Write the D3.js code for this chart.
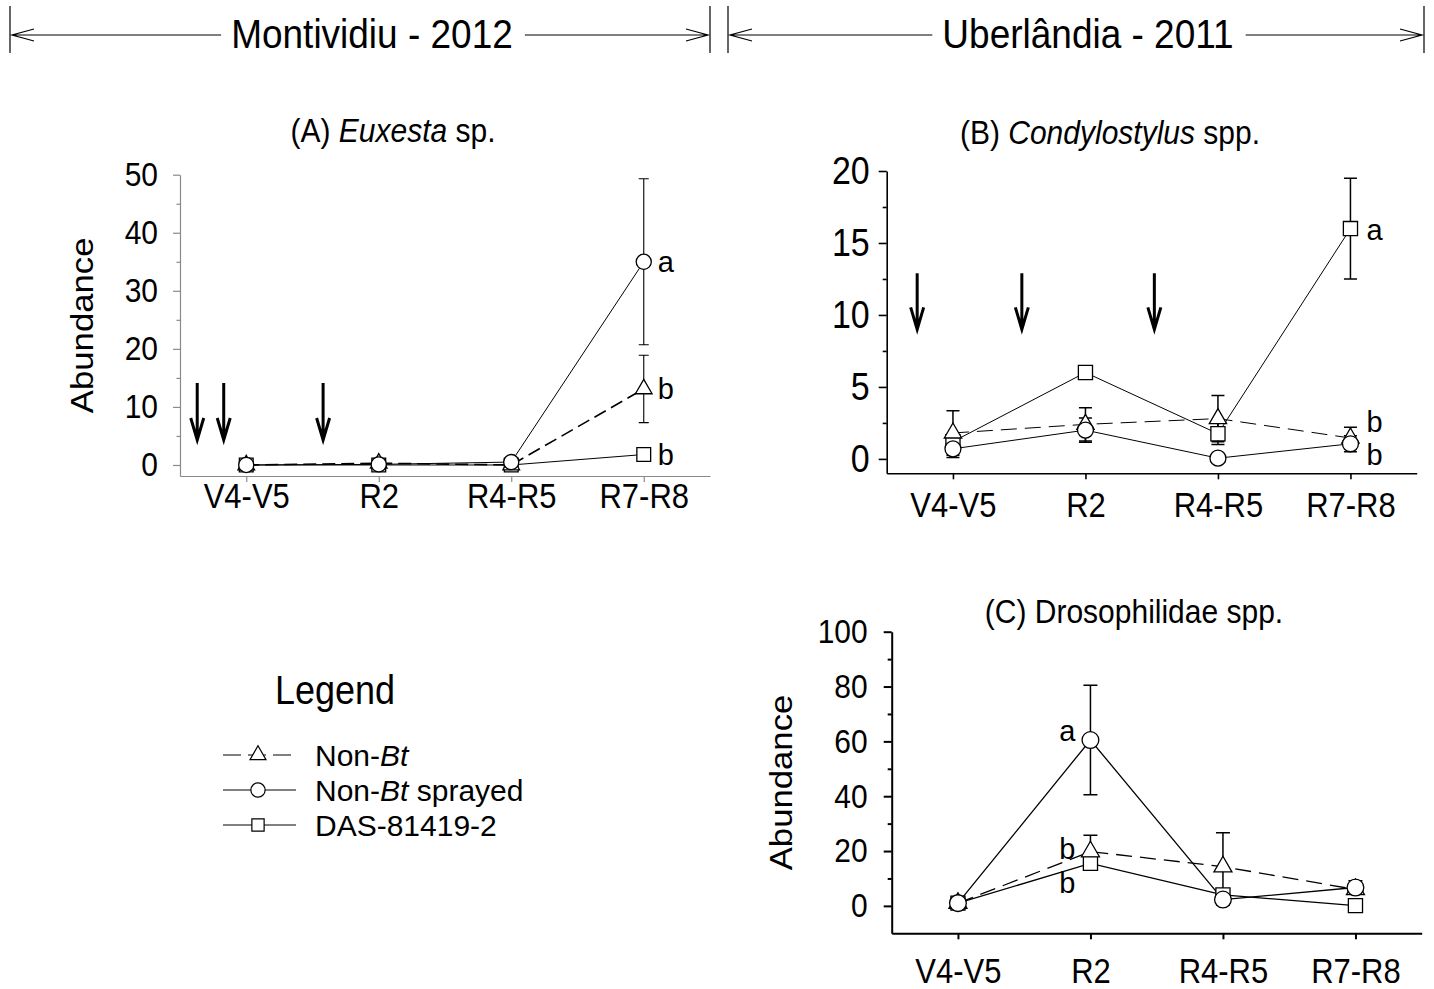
<!DOCTYPE html>
<html>
<head>
<meta charset="utf-8">
<script src="https://cdn.jsdelivr.net/npm/d3@7"></script>
<style>
  body { margin: 0; background: #fff; }
  text { font-family: "Liberation Sans", Arial, Helvetica, sans-serif; fill: #000; }
</style>
</head>
<body>
<svg id="fig" width="1434" height="989"></svg>
<script>
// growth stages on the x axis
const stages = ["V4-V5", "R2", "R4-R5", "R7-R8"]

// (A) Euxesta sp. - Montividiu 2012
const euxNonBt = [0, 0.3, 0, 13.1]
const euxNonBtErr = [0, 0, 0, 5.8]
const euxSprayed = [0, 0.1, 0.5, 35]
const euxSprayedErr = [0, 0, 0, 14.3]
const euxBt = [0, 0, 0, 1.8]
const euxBtErr = [0, 0, 0, 0]
const euxSprays = [-0.37, -0.17, 0.58]       // spray dates, in stage units
const euxLetters = ["b", "a", "b"]           // non-Bt, sprayed, Bt at R7-R8

// (B) Condylostylus spp. - Uberlandia 2011
const conNonBt = [1.8, 2.4, 2.8, 1.45]
const conNonBtErr = [1.55, 1.15, 1.6, 0.75]
const conSprayed = [0.7, 2.0, 0.05, 1.05]
const conSprayedErr = [0.6, 0.85, 0, 0.55]
const conBt = [1.2, 6.0, 1.75, 16.0]
const conBtErr = [0.3, 0.2, 0.75, 3.5]
const conSprays = [-0.27, 0.52, 1.52]
const conLetters = ["b", "b", "a"]           // at R7-R8

// (C) Drosophilidae spp. - Uberlandia 2011
const droNonBt = [1, 19.8, 14.3, 6]
const droNonBtErr = [1, 6, 12.4, 1.5]
const droSprayed = [1, 60.5, 2.3, 6.7]
const droSprayedErr = [1, 20, 2, 2.5]
const droBt = [1, 15.5, 4, 0.1]
const droBtErr = [0.8, 2.5, 2, 2]
const droLetters = ["b", "a", "b"]           // at R2

const treatments = ["Non-Bt", "Non-Bt sprayed", "DAS-81419-2"]
const shapes = [d3.symbolTriangle, d3.symbolCircle, d3.symbolSquare]

const svg = d3.select("#fig")

/** site header with double arrow */
function drawSite(x0, x1, label) {
    const g = svg.append("g")
    const cx = (x0 + x1) / 2 + 12
    const t = g.append("text")
        .attr("x", cx)
        .attr("y", 47)
        .attr("text-anchor", "middle")
        .style("font-size", "37px")
        .text(label)
    const w = t.node().getComputedTextLength()
    const yl = 35
    g.selectAll("line.bar").data([x0, x1]).enter().append("line")
        .attr("x1", d => d).attr("x2", d => d)
        .attr("y1", 6).attr("y2", 53)
        .attr("stroke", "#000").attr("stroke-width", 1.2)
    g.append("path")
        .attr("d", `M${x0 + 2},${yl}H${cx - w / 2 - 10}M${cx + w / 2 + 12},${yl}H${x1 - 2}` +
            `M${x0 + 24},${yl - 6}L${x0 + 2},${yl}L${x0 + 24},${yl + 6}` +
            `M${x1 - 24},${yl - 6}L${x1 - 2},${yl}L${x1 - 24},${yl + 6}`)
        .attr("fill", "none").attr("stroke", "#000").attr("stroke-width", 1.2)
}

drawSite(10, 710, "Montividiu - 2012")
drawSite(728, 1424, "Uberlândia - 2011")

/** draws one panel */
function drawPanel(p) {
    const g = svg.append("g")
    const x = d3.scaleLinear().domain([-0.5, 3.5]).range(p.xRange)
    const y = d3.scaleLinear().domain(p.yDomain).range(p.yRange)

    // title
    const title = g.append("text")
        .attr("x", p.titleX).attr("y", p.titleY)
        .attr("text-anchor", "middle")
        .style("font-size", "30px")
    title.append("tspan").text(p.title[0])
    title.append("tspan").style("font-style", p.title[2] ? "italic" : "normal").text(p.title[1])
    if (p.title[2]) title.append("tspan").text(p.title[2])

    // y axis
    const yAx = g.append("g")
        .attr("transform", `translate(${p.xRange[0]},0)`)
        .call(d3.axisLeft(y).tickValues(p.yTicks).tickSize(p.tickLen)
            .tickPadding(p.yPad).tickSizeOuter(0))
    g.append("g")
        .attr("transform", `translate(${p.xRange[0]},0)`)
        .call(d3.axisLeft(y).tickValues(p.yMinor).tickSize(p.tickLen / 2)
            .tickFormat("").tickSizeOuter(0))
        .call(a => a.select(".domain").remove())
        .selectAll("line").attr("stroke", p.axisColor).attr("stroke-width", p.axisWidth)

    // x axis
    const xAx = g.append("g")
        .attr("transform", `translate(0,${p.yRange[0]})`)
        .call(d3.axisBottom(x).tickValues([0, 1, 2, 3]).tickFormat(i => stages[i])
            .tickSize(6).tickPadding(p.xPad).tickSizeOuter(0))

    for (const ax of [yAx, xAx]) {
        ax.attr("font-family", null).attr("font-size", null)
        ax.selectAll("path, line").attr("stroke", p.axisColor).attr("stroke-width", p.axisWidth)
        ax.selectAll("text").style("font-size", (ax === yAx ? p.yFont : 31) + "px")
    }

    // y label
    if (p.ylabel) {
        g.append("text")
            .attr("class", "vertical")
            .attr("transform", `translate(${p.ylabelX},${(p.yRange[0] + p.yRange[1]) / 2}) rotate(-90)`)
            .attr("text-anchor", "middle")
            .style("font-size", "31px")
            .text("Abundance")
    }

    // spray arrows
    for (const s of (p.sprays || [])) {
        const ax = x(s), y0 = y(p.arrowRange[0]), y1 = y(p.arrowRange[1])
        g.append("path")
            .attr("d", `M${ax},${y0}V${y1 - 2}M${ax - 6.5},${y1 - 22}L${ax},${y1}L${ax + 6.5},${y1 - 22}`)
            .attr("fill", "none").attr("stroke", "#000").attr("stroke-width", 3)
    }

    const series = p.series
    const line = d3.line().x((d, i) => x(i)).y(d => y(d))

    // connecting lines
    series.forEach((s, k) => {
        g.append("path")
            .datum(s.values)
            .attr("d", line)
            .attr("fill", "none")
            .attr("stroke", "#000")
            .attr("stroke-width", k === 0 ? p.dashWidth : p.lineWidth)
            .attr("stroke-dasharray", k === 0 ? p.dash : null)
    })

    // error bars
    series.forEach(s => {
        const eb = g.append("g").attr("stroke", "#000").attr("stroke-width", p.errWidth)
        s.values.forEach((v, i) => {
            const e = s.err[i]
            if (!e) return
            const xi = x(i)
            eb.append("path")
                .attr("d", `M${xi},${y(v - e)}V${y(v + e)}` +
                    `M${xi - p.cap},${y(v + e)}H${xi + p.cap}` +
                    `M${xi - p.cap},${y(v - e)}H${xi + p.cap}`)
                .attr("fill", "none")
        })
    })

    // markers: Bt, non-Bt, sprayed (sprayed on top)
    for (const k of [2, 0, 1]) {
        const s = series[k]
        g.append("g").selectAll("path")
            .data(s.values)
            .enter().append("path")
            .attr("transform", (d, i) => `translate(${x(i)},${y(d)})`)
            .attr("d", d3.symbol().type(shapes[k]).size(p.markerSize[k]))
            .attr("fill", "#fff")
            .attr("stroke", "#000")
            .attr("stroke-width", 1.3)
    }

    // significance letters
    p.letters.forEach((t, k) => {
        g.append("text")
            .attr("class", "nostretch")
            .attr("x", x(p.letterStage) + p.letterDx)
            .attr("y", y(series[k].values[p.letterStage]) + p.letterDy[k])
            .attr("text-anchor", p.letterDx < 0 ? "end" : "start")
            .style("font-size", "29px")
            .text(t)
    })
}

drawPanel({
    title: ["(A) ", "Euxesta", " sp."], titleX: 393, titleY: 141,
    xRange: [180, 710], yDomain: [-1.9, 50], yRange: [476, 174.7],
    yTicks: d3.range(0, 51, 10), yMinor: d3.range(5, 50, 10),
    tickLen: 7, yPad: 15, xPad: 3, yFont: 30,
    axisColor: "#8a8a8a", axisWidth: 1.2,
    ylabel: true, ylabelX: 93,
    sprays: euxSprays, arrowRange: [14.1, 4.3],
    series: [
        { values: euxNonBt, err: euxNonBtErr },
        { values: euxSprayed, err: euxSprayedErr },
        { values: euxBt, err: euxBtErr }
    ],
    dash: "13,6", dashWidth: 1.6, lineWidth: 1, errWidth: 1.1, cap: 5,
    markerSize: [120, 180, 190],
    letters: euxLetters, letterStage: 3, letterDx: 14, letterDy: [10, 10, 10]
})

drawPanel({
    title: ["(B) ", "Condylostylus", " spp."], titleX: 1110, titleY: 143,
    xRange: [886.7, 1416.7], yDomain: [-1, 20], yRange: [473.3, 171],
    yTicks: d3.range(0, 21, 5), yMinor: d3.range(2.5, 20, 5),
    tickLen: 8, yPad: 9, xPad: 14, yFont: 34,
    axisColor: "#000", axisWidth: 1.6,
    ylabel: false,
    sprays: conSprays, arrowRange: [12.9, 9.0],
    series: [
        { values: conNonBt, err: conNonBtErr },
        { values: conSprayed, err: conSprayedErr },
        { values: conBt, err: conBtErr }
    ],
    dash: "16,8", dashWidth: 1, lineWidth: 1, errWidth: 1.5, cap: 6.5,
    markerSize: [130, 200, 200],
    letters: conLetters, letterStage: 3, letterDx: 16, letterDy: [-6, 21, 11]
})

drawPanel({
    title: ["(C) Drosophilidae spp.", "", ""], titleX: 1134, titleY: 622,
    xRange: [891.7, 1421.7], yDomain: [-10, 100], yRange: [933.3, 631.7],
    yTicks: d3.range(0, 101, 20), yMinor: d3.range(10, 100, 20),
    tickLen: 8, yPad: 16, xPad: 20, yFont: 30,
    axisColor: "#000", axisWidth: 2,
    ylabel: true, ylabelX: 792,
    sprays: [],
    series: [
        { values: droNonBt, err: droNonBtErr },
        { values: droSprayed, err: droSprayedErr },
        { values: droBt, err: droBtErr }
    ],
    dash: "16,8", dashWidth: 1.3, lineWidth: 1.3, errWidth: 1.5, cap: 7,
    markerSize: [140, 220, 200],
    letters: droLetters, letterStage: 1, letterDx: -15, letterDy: [7, 1, 30]
})

// legend
const legend = svg.append("g")
legend.append("text").attr("x", 275).attr("y", 703).style("font-size", "36px").text("Legend")
const legendRows = [755, 790, 825]
treatments.forEach((name, k) => {
    const ly = legendRows[k]
    const row = legend.append("g")
    row.append("line")
        .attr("x1", 223).attr("x2", k === 0 ? 292 : 296)
        .attr("y1", ly).attr("y2", ly)
        .attr("stroke", "#000").attr("stroke-width", 1)
        .attr("stroke-dasharray", k === 0 ? "18,7" : null)
    row.append("path")
        .attr("transform", `translate(258,${ly})`)
        .attr("d", d3.symbol().type(shapes[k]).size([110, 160, 150][k]))
        .attr("fill", "#fff").attr("stroke", "#000").attr("stroke-width", 1.2)
    const t = row.append("text").attr("class", "nostretch")
        .attr("x", 315).attr("y", ly + 11).style("font-size", "30px")
    if (name.startsWith("Non-Bt")) {
        t.append("tspan").text("Non-")
        t.append("tspan").style("font-style", "italic").text("Bt")
        if (name.length > 6) t.append("tspan").text(name.slice(6))
    } else {
        t.text(name)
    }
})

// the source figure's lettering is a little taller than Liberation Sans
const stretch = 1.12
svg.selectAll("text:not(.nostretch)").each(function () {
    const el = d3.select(this)
    if (el.classed("vertical")) {
        el.attr("transform", el.attr("transform") + ` scale(${stretch},1)`)
    } else {
        const bb = this.getBBox()
        const cy = bb.y + bb.height / 2
        el.attr("transform", `translate(0,${cy}) scale(1,${stretch}) translate(0,${-cy})`)
    }
})
</script>
</body>
</html>
